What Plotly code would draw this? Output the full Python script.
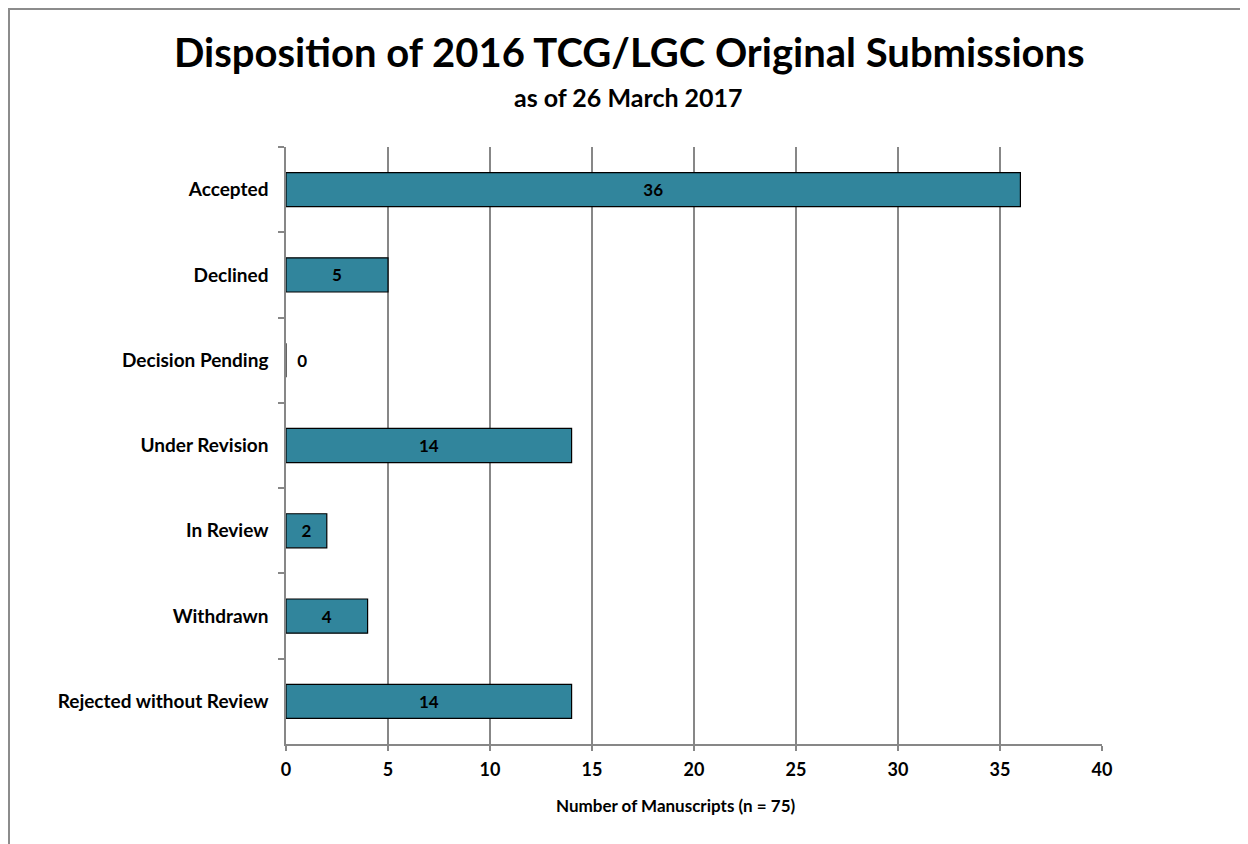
from plotly import graph_objs as go

# Datos del gráfico
categorias = [
    "Accepted",
    "Declined",
    "Decision Pending",
    "Under Revision",
    "In Review",
    "Withdrawn",
    "Rejected without Review",
]
manuscritos = [36, 5, 0, 14, 2, 4, 14]
ticks_x = [0, 5, 10, 15, 20, 25, 30, 35, 40]

titulo = "Disposition of 2016 TCG/LGC Original Submissions"
subtitulo = "as of 26 March 2017"
titulo_x = "Number of Manuscripts (n = 75)"

# La página tiene un margen de 8 px alrededor de la figura
OFFSET = 8
VENTANA_W, VENTANA_H = 1248, 844
ANCHO, ALTO = VENTANA_W - OFFSET, VENTANA_H - OFFSET

# Área de trazado en píxeles de la ventana
X0, X1, Y0, Y1 = 286, 1102, 147, 744
M_IZQ, M_DER = X0 - OFFSET, VENTANA_W - X1
M_SUP, M_INF = Y0 - OFFSET, VENTANA_H - Y1


def py(y_px):
    """Convierte una posición vertical de la ventana a coordenadas paper."""
    return (Y1 - y_px) / (Y1 - Y0)


def px(x_px):
    """Convierte una posición horizontal de la ventana a coordenadas paper."""
    return (x_px - X0) / (X1 - X0)


FUENTE = "Lato"
GRIS = "#878787"

fig = go.Figure(
    layout=go.Layout(
        width=ANCHO,
        height=ALTO,
        margin={"l": M_IZQ, "r": M_DER, "t": M_SUP, "b": M_INF},
        paper_bgcolor="white",
        plot_bgcolor="white",
        showlegend=False,
        font={"family": FUENTE, "color": "black"},
        xaxis={
            "range": [0, 40],
            "tickvals": ticks_x,
            "showgrid": True,
            "gridcolor": GRIS,
            "gridwidth": 1.5,
            "showline": True,
            "linecolor": GRIS,
            "linewidth": 1.5,
            "ticks": "outside",
            "ticklen": 5,
            "tickcolor": GRIS,
            "tickwidth": 1.5,
            "tickfont": {"size": 18, "weight": "bold"},
            "ticklabelstandoff": 4,
            "zeroline": False,
            "fixedrange": True,
        },
        yaxis={
            "autorange": "reversed",
            "showgrid": False,
            "showline": True,
            "linecolor": GRIS,
            "linewidth": 1.5,
            "ticks": "outside",
            "tickson": "boundaries",
            "ticklen": 6,
            "tickcolor": GRIS,
            "tickwidth": 1.5,
            "tickfont": {"size": 19, "weight": "bold"},
            "ticklabelstandoff": 12,
        },
    )
)

fig.add_trace(
    go.Bar(
        x=manuscritos,
        y=categorias,
        orientation="h",
        width=0.4,
        marker={"color": "#31859c", "line": {"width": 1.2, "color": "black"}},
        texttemplate=["%{x}" if v > 0 else "\u00a0\u00a0%{x}" for v in manuscritos],
        textposition=["inside" if v > 0 else "outside" for v in manuscritos],
        insidetextanchor="middle",
        constraintext="none",
        textfont={"size": 17, "weight": "bold", "color": "black"},
        insidetextfont={"size": 17, "weight": "bold", "color": "black"},
        outsidetextfont={"size": 17, "weight": "bold", "color": "black"},
        cliponaxis=False,
        hoverinfo="x+y",
    )
)

# Títulos
fig.add_annotation(
    text=titulo, xref="paper", yref="paper", x=px(629), y=py(52),
    showarrow=False, xanchor="center", yanchor="middle",
    font={"size": 40, "weight": "bold"},
)
fig.add_annotation(
    text=subtitulo, xref="paper", yref="paper", x=px(628), y=py(97),
    showarrow=False, xanchor="center", yanchor="middle",
    font={"size": 25, "weight": "bold"},
)
fig.add_annotation(
    text=titulo_x, xref="paper", yref="paper", x=px(676), y=py(805),
    showarrow=False, xanchor="center", yanchor="middle",
    font={"size": 17, "weight": "bold"},
)

# Marco del gráfico
fig.add_shape(
    type="path", xref="paper", yref="paper",
    path=f"M {px(9)} {py(VENTANA_H)} L {px(9)} {py(9)} L {px(VENTANA_W)} {py(9)}",
    line={"color": "#8c8c8c", "width": 2},
)

fig.write_html("out.html")
